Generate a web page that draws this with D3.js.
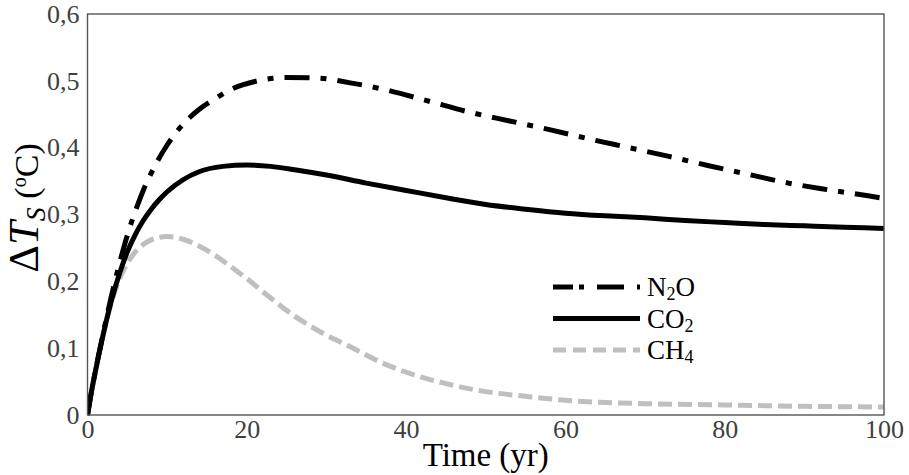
<!DOCTYPE html>
<html>
<head>
<meta charset="utf-8">
<script src="https://cdn.jsdelivr.net/npm/d3@7"></script>
<style>
  body { margin: 0; background: #fff; }
  svg text { font-family: 'Liberation Serif', 'Times New Roman', serif; fill: #000; }
</style>
</head>
<body>
<svg id="chart" width="909" height="475"></svg>
<script>
'use strict';
// values
var yearsN2O = [0, 0.5, 1, 2, 3, 4, 5, 6, 7, 8, 10, 12, 14, 16, 18, 21, 25, 29, 33, 38, 43, 48, 53, 58, 63, 68, 73, 78, 83, 88, 93, 98, 100];
var valsN2O = [0, 0.035, 0.066, 0.124, 0.178, 0.226, 0.269, 0.305, 0.336, 0.362, 0.404, 0.435, 0.457, 0.473, 0.487, 0.499, 0.505, 0.504, 0.497, 0.485, 0.469, 0.453, 0.44, 0.427, 0.413, 0.4, 0.387, 0.373, 0.36, 0.347, 0.337, 0.328, 0.324];

var yearsCO2 = [0, 0.5, 1, 2, 3, 4, 5, 6, 7, 8, 9, 10, 12, 14, 17, 20, 23, 26, 30, 35, 40, 45, 50, 55, 60, 65, 70, 75, 80, 85, 90, 95, 100];
var valsCO2 = [0, 0.035, 0.066, 0.122, 0.171, 0.211, 0.244, 0.27, 0.291, 0.308, 0.322, 0.334, 0.352, 0.364, 0.372, 0.374, 0.372, 0.367, 0.359, 0.347, 0.336, 0.325, 0.315, 0.308, 0.302, 0.298, 0.295, 0.291, 0.288, 0.285, 0.283, 0.281, 0.279];

var yearsCH4 = [0, 0.5, 1, 2, 3, 4, 5, 6, 7, 8, 10, 12, 14, 16, 18, 20, 23, 26, 29, 33, 37, 41, 45, 50, 55, 60, 70, 80, 90, 100];
var valsCH4 = [0, 0.035, 0.066, 0.122, 0.168, 0.203, 0.227, 0.244, 0.255, 0.262, 0.267, 0.263, 0.253, 0.239, 0.222, 0.204, 0.175, 0.148, 0.126, 0.102, 0.078, 0.06, 0.047, 0.035, 0.028, 0.022, 0.017, 0.015, 0.013, 0.012];

var xTicks = [0, 20, 40, 60, 80, 100];
var yTicks = [0, 0.1, 0.2, 0.3, 0.4, 0.5, 0.6];

(() => {
  var svg = d3.select('#chart');
  var mLeft = 87.5, mRight = 884, mTop = 14, mBottom = 415;

  var x = d3.scaleLinear().domain([0, 100]).range([mLeft, mRight]);
  var y = d3.scaleLinear().domain([0, 0.6]).range([mBottom, mTop]);

  var fmt = d => d === 0 ? '0' : d3.format('.1f')(d).replace('.', ',');

  function styleTicks(g) {
    g.attr('font-family', null).attr('font-size', null);
    g.select('.domain').remove();
    g.selectAll('text')
      .style('font-family', "'Liberation Serif', serif")
      .style('font-size', '26px')
      .style('fill', '#404040');
  }

  // axes (labels only, no tick marks)
  svg.append('g')
    .attr('transform', `translate(0, ${mBottom})`)
    .call(d3.axisBottom(x).tickValues(xTicks).tickSize(0).tickPadding(5).tickFormat(d3.format('d')))
    .call(styleTicks);

  svg.append('g')
    .attr('transform', `translate(${mLeft}, 0)`)
    .call(d3.axisLeft(y).tickValues(yTicks).tickSize(0).tickPadding(8).tickFormat(fmt))
    .call(styleTicks);

  // clip for the curves
  svg.append('clipPath').attr('id', 'plotclip')
    .append('rect')
      .attr('x', mLeft).attr('y', mTop - 5)
      .attr('width', mRight - mLeft).attr('height', mBottom - mTop + 10);

  var line = d3.line()
    .x(d => x(d[0]))
    .y(d => y(d[1]))
    .curve(d3.curveMonotoneX);

  var series = [
    { pre: 'N', sub: '2', post: 'O', years: yearsN2O, vals: valsN2O, color: '#000', dash: '25,11,6,11', legDash: '20,6,5,13,27,13,5,20' },
    { pre: 'CO', sub: '2', post: '', years: yearsCO2, vals: valsCO2, color: '#000', dash: null, legDash: null },
    { pre: 'CH', sub: '4', post: '', years: yearsCH4, vals: valsCH4, color: '#bfbfbf', dash: '14,6', legDash: '13,7' }
  ];

  var plot = svg.append('g').attr('clip-path', 'url(#plotclip)');
  // CH4 first, N2O on top
  [series[2], series[1], series[0]].forEach(s => {
    plot.append('path')
      .datum(s.years.map((t, i) => [t, s.vals[i]]))
      .attr('d', line)
      .attr('fill', 'none')
      .attr('stroke', s.color)
      .attr('stroke-width', 5)
      .attr('stroke-dasharray', s.dash);
  });

  // frame
  svg.append('rect')
    .attr('x', mLeft).attr('y', mTop)
    .attr('width', mRight - mLeft).attr('height', mBottom - mTop)
    .attr('fill', 'none')
    .attr('stroke', '#555')
    .attr('stroke-width', 1.4);

  // legend
  var lg = svg.append('g').attr('transform', 'translate(553, 287)');
  series.forEach((s, i) => {
    var row = lg.append('g').attr('transform', `translate(0, ${i * 31.5})`);
    row.append('line')
      .attr('x1', 0).attr('x2', 87)
      .attr('stroke', s.color)
      .attr('stroke-width', 5)
      .attr('stroke-dasharray', s.legDash);
    var t = row.append('text')
      .attr('x', 94).attr('y', 9)
      .attr('font-size', 27);
    t.append('tspan').text(s.pre);
    t.append('tspan').attr('font-size', 18).attr('dy', 4).text(s.sub);
    if (s.post) t.append('tspan').attr('dy', -4).text(s.post);
  });

  // axis titles
  svg.append('text')
    .attr('x', (mLeft + mRight) / 2)
    .attr('y', 466)
    .attr('text-anchor', 'middle')
    .attr('font-size', 33)
    .text('Time (yr)');

  var yt = svg.append('text')
    .attr('transform', 'translate(38, 208) rotate(-90)')
    .attr('text-anchor', 'middle')
    .attr('font-size', 43);
  yt.append('tspan').text('Δ');
  yt.append('tspan').attr('font-style', 'italic').text('T');
  yt.append('tspan').attr('font-style', 'italic').attr('font-size', 28).attr('dy', 7).text('S');
  yt.append('tspan').attr('dy', -7).attr('font-size', 34).text(' (');
  yt.append('tspan').attr('font-size', 20).attr('dy', -12).text('o');
  yt.append('tspan').attr('font-size', 34).attr('dy', 12).text('C)');
})();
</script>
</body>
</html>
